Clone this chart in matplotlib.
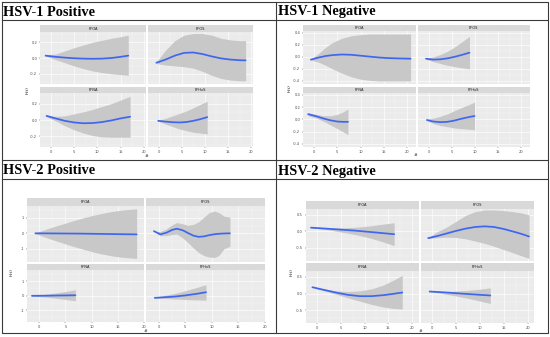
import matplotlib
matplotlib.use("Agg")
import matplotlib.pyplot as plt
import numpy as np

W, H = 550, 337

# ---- data ----
facet_names = ["PFOA", "PFOS", "PFNA", "PFHxS"]
panel_titles = ["HSV-1 Positive", "HSV-1 Negative", "HSV-2 Positive", "HSV-2 Negative"]

# HSV-1 Positive
p1_pfoa_x = [-1.1, 1, 3, 5, 7, 9, 11, 13, 15, 16.6]
p1_pfoa_fit = [0.03, 0.015, 0.005, -0.003, -0.008, -0.01, -0.008, 0.0, 0.015, 0.03]
p1_pfoa_hi = [0.035, 0.05, 0.09, 0.13, 0.165, 0.2, 0.225, 0.25, 0.27, 0.29]
p1_pfoa_lo = [0.025, -0.02, -0.06, -0.1, -0.135, -0.165, -0.185, -0.2, -0.21, -0.22]
p1_pfos_x = [-0.5, 1.5, 3.5, 5.5, 7.5, 9.5, 11.5, 13.5, 15.5, 17.5, 18.8]
p1_pfos_fit = [-0.06, -0.02, 0.03, 0.065, 0.07, 0.05, 0.02, -0.005, -0.02, -0.028, -0.03]
p1_pfos_hi = [-0.05, 0.1, 0.22, 0.29, 0.31, 0.31, 0.29, 0.25, 0.23, 0.22, 0.22]
p1_pfos_lo = [-0.07, -0.09, -0.1, -0.11, -0.13, -0.17, -0.22, -0.26, -0.28, -0.29, -0.29]
p1_pfna_x = [-0.9, 1, 3, 5, 7, 9, 11, 13, 15, 17]
p1_pfna_fit = [0.05, 0.02, -0.01, -0.03, -0.04, -0.037, -0.025, -0.005, 0.02, 0.04]
p1_pfna_hi = [0.06, 0.045, 0.05, 0.075, 0.1, 0.13, 0.165, 0.2, 0.245, 0.29]
p1_pfna_lo = [0.04, -0.01, -0.07, -0.12, -0.16, -0.19, -0.205, -0.21, -0.21, -0.21]
p1_pfhxs_x = [-0.1, 1.5, 3, 4.5, 6, 7.5, 9, 10.5]
p1_pfhxs_fit = [-0.01, -0.02, -0.027, -0.03, -0.025, -0.01, 0.01, 0.035]
p1_pfhxs_hi = [-0.005, 0.02, 0.05, 0.08, 0.11, 0.15, 0.19, 0.23]
p1_pfhxs_lo = [-0.015, -0.05, -0.08, -0.11, -0.13, -0.15, -0.16, -0.17]

# HSV-1 Negative
p2_pfoa_x = [-0.7, 1, 2.5, 4, 6, 8, 10, 12, 14, 16, 18, 20.8]
p2_pfoa_fit = [-0.045, -0.01, 0.015, 0.03, 0.04, 0.035, 0.02, 0.005, -0.01, -0.02, -0.025, -0.03]
p2_pfoa_hi = [-0.04, 0.06, 0.16, 0.24, 0.31, 0.35, 0.37, 0.38, 0.38, 0.38, 0.38, 0.38]
p2_pfoa_lo = [-0.05, -0.09, -0.14, -0.2, -0.27, -0.33, -0.37, -0.39, -0.4, -0.4, -0.4, -0.4]
p2_pfos_x = [-0.6, 1, 2.5, 4, 5.5, 7, 8.8]
p2_pfos_fit = [-0.03, -0.045, -0.04, -0.025, 0.0, 0.03, 0.07]
p2_pfos_hi = [-0.02, 0.0, 0.04, 0.09, 0.16, 0.24, 0.34]
p2_pfos_lo = [-0.04, -0.08, -0.11, -0.14, -0.16, -0.18, -0.2]
p2_pfna_x = [-1.3, 0.5, 2, 3.5, 5, 6.2, 7.3]
p2_pfna_fit = [0.085, 0.05, 0.015, -0.015, -0.035, -0.04, -0.04]
p2_pfna_hi = [0.11, 0.08, 0.06, 0.06, 0.08, 0.12, 0.17]
p2_pfna_lo = [0.06, 0.02, -0.03, -0.09, -0.15, -0.2, -0.25]
p2_pfhxs_x = [-0.4, 1, 2.5, 4, 5.5, 7, 8.5, 9.9]
p2_pfhxs_fit = [-0.01, -0.035, -0.045, -0.04, -0.02, 0.01, 0.035, 0.055]
p2_pfhxs_hi = [0.0, 0.02, 0.05, 0.09, 0.14, 0.19, 0.235, 0.28]
p2_pfhxs_lo = [-0.02, -0.07, -0.1, -0.12, -0.14, -0.15, -0.16, -0.17]

# HSV-2 Positive
p3_pfoa_x = [-0.75, 2, 4, 6, 8, 10, 12, 14, 16, 18.6]
p3_pfoa_fit = [0.0, -0.005, -0.01, -0.015, -0.02, -0.03, -0.04, -0.05, -0.06, -0.07]
p3_pfoa_hi = [0.02, 0.35, 0.56, 0.77, 0.97, 1.15, 1.3, 1.43, 1.52, 1.6]
p3_pfoa_lo = [-0.02, -0.36, -0.58, -0.8, -1.0, -1.19, -1.35, -1.48, -1.57, -1.64]
p3_pfos_x = [-0.9, 0.3, 1.5, 2.5, 3.4, 4.5, 5.5, 6.5, 7.5, 8.5, 9.5, 10.5, 11.3, 12.3, 13.4]
p3_pfos_fit = [0.14, -0.07, 0.05, 0.22, 0.3, 0.2, 0.02, -0.15, -0.23, -0.2, -0.12, -0.06, -0.03, -0.01, 0.0]
p3_pfos_hi = [0.14, 0.11, 0.3, 0.55, 0.7, 0.62, 0.52, 0.58, 0.75, 1.05, 1.35, 1.45, 1.35, 1.12, 1.05]
p3_pfos_lo = [0.14, -0.16, -0.15, -0.08, -0.05, -0.3, -0.6, -0.95, -1.25, -1.45, -1.55, -1.57, -1.45, -1.0, -0.85]
p3_pfna_x = [-1.4, 1, 3, 5, 6.9]
p3_pfna_fit = [-0.02, -0.01, 0.0, 0.01, 0.02]
p3_pfna_hi = [0.0, 0.08, 0.17, 0.28, 0.4]
p3_pfna_lo = [-0.04, -0.1, -0.18, -0.27, -0.36]
p3_pfhxs_x = [-0.75, 1, 3, 5, 7, 8.9]
p3_pfhxs_fit = [-0.16, -0.12, -0.07, 0.01, 0.11, 0.23]
p3_pfhxs_hi = [-0.14, 0.0, 0.15, 0.33, 0.54, 0.75]
p3_pfhxs_lo = [-0.18, -0.2, -0.24, -0.27, -0.3, -0.32]

# HSV-2 Negative
p4_pfoa_x = [-1.2, 2, 5, 8, 11, 14, 16.2]
p4_pfoa_fit = [0.11, 0.08, 0.05, 0.02, -0.02, -0.06, -0.09]
p4_pfoa_hi = [0.115, 0.1, 0.1, 0.12, 0.16, 0.22, 0.26]
p4_pfoa_lo = [0.105, 0.05, -0.02, -0.1, -0.2, -0.33, -0.44]
p4_pfos_x = [-0.8, 1, 3, 5, 7, 9, 11, 13, 15, 17, 18.7, 20.3]
p4_pfos_fit = [-0.21, -0.15, -0.07, 0.01, 0.08, 0.13, 0.15, 0.13, 0.07, -0.01, -0.08, -0.16]
p4_pfos_hi = [-0.2, -0.02, 0.12, 0.3, 0.48, 0.6, 0.65, 0.65, 0.63, 0.6, 0.56, 0.5]
p4_pfos_lo = [-0.22, -0.2, -0.18, -0.19, -0.23, -0.3, -0.37, -0.46, -0.56, -0.66, -0.75, -0.83]
p4_pfna_x = [-0.9, 1.5, 4, 6.5, 9, 11.5, 14, 16, 17.9]
p4_pfna_fit = [0.19, 0.11, 0.03, -0.04, -0.08, -0.08, -0.05, -0.01, 0.03]
p4_pfna_hi = [0.2, 0.14, 0.08, 0.06, 0.08, 0.14, 0.26, 0.4, 0.55]
p4_pfna_lo = [0.18, 0.08, -0.02, -0.13, -0.23, -0.33, -0.41, -0.45, -0.47]
p4_pfhxs_x = [-0.5, 2, 4.5, 7, 9.5, 12.2]
p4_pfhxs_fit = [0.06, 0.04, 0.015, -0.01, -0.035, -0.06]
p4_pfhxs_hi = [0.065, 0.06, 0.07, 0.09, 0.12, 0.17]
p4_pfhxs_lo = [0.055, 0.0, -0.06, -0.13, -0.21, -0.3]

# axis scales per panel
xlims = [(-2.3, 20.4), (-2.4, 21.9), (-2.4, 19.7), (-2.3, 21.4)]
ylims = [(-0.33, 0.33), (-0.45, 0.43), (-1.85, 1.8), (-0.9, 0.68)]
yticks = [[-0.2, 0.0, 0.2], [-0.4, -0.2, 0.0, 0.2, 0.4], [-1, 0, 1], [-0.5, 0.0, 0.5]]
ytick_labels = [["-0.2", "0.0", "0.2"], ["-0.4", "-0.2", "0.0", "0.2", "0.4"],
                ["-1", "0", "1"], ["-0.5", "0.0", "0.5"]]
xticks = [0, 5, 10, 15, 20]

facets = [
    [(p1_pfoa_x, p1_pfoa_fit, p1_pfoa_lo, p1_pfoa_hi), (p1_pfos_x, p1_pfos_fit, p1_pfos_lo, p1_pfos_hi),
     (p1_pfna_x, p1_pfna_fit, p1_pfna_lo, p1_pfna_hi), (p1_pfhxs_x, p1_pfhxs_fit, p1_pfhxs_lo, p1_pfhxs_hi)],
    [(p2_pfoa_x, p2_pfoa_fit, p2_pfoa_lo, p2_pfoa_hi), (p2_pfos_x, p2_pfos_fit, p2_pfos_lo, p2_pfos_hi),
     (p2_pfna_x, p2_pfna_fit, p2_pfna_lo, p2_pfna_hi), (p2_pfhxs_x, p2_pfhxs_fit, p2_pfhxs_lo, p2_pfhxs_hi)],
    [(p3_pfoa_x, p3_pfoa_fit, p3_pfoa_lo, p3_pfoa_hi), (p3_pfos_x, p3_pfos_fit, p3_pfos_lo, p3_pfos_hi),
     (p3_pfna_x, p3_pfna_fit, p3_pfna_lo, p3_pfna_hi), (p3_pfhxs_x, p3_pfhxs_fit, p3_pfhxs_lo, p3_pfhxs_hi)],
    [(p4_pfoa_x, p4_pfoa_fit, p4_pfoa_lo, p4_pfoa_hi), (p4_pfos_x, p4_pfos_fit, p4_pfos_lo, p4_pfos_hi),
     (p4_pfna_x, p4_pfna_fit, p4_pfna_lo, p4_pfna_hi), (p4_pfhxs_x, p4_pfhxs_fit, p4_pfhxs_lo, p4_pfhxs_hi)],
]

# ---- layout in pixels (left col x-ranges, right col x-ranges, strip/panel y-ranges) ----
# (lx0, lx1, rx0, rx1, s1y0, p1y0, p1y1, s2y0, p2y0, p2y1)
geom = [
    (40, 146, 148, 253, 25, 32, 84, 87, 93, 147),
    (303, 415.7, 417.7, 530, 25, 31, 84, 87, 93, 147),
    (26.7, 144, 146, 265, 197.7, 205.7, 261.7, 263.5, 269.5, 322.3),
    (305.7, 419, 421, 534.3, 201, 209, 260.7, 263.3, 271, 323.3),
]
ylab_pos = [(28, 90), (290, 88), (12, 272), (292, 272)]
xlab_pos = [(146, 156), (415, 155), (145, 331), (420, 331)]
title_pos = [(3, 12), (278, 12), (3, 171), (278, 171)]

PANEL_BG = "#EBEBEB"
STRIP_BG = "#D9D9D9"
TICK_FS = 2.6


def px_axes(fig, x0, y0, x1, y1):
    return fig.add_axes([x0 / W, 1 - y1 / H, (x1 - x0) / W, (y1 - y0) / H])


fig = plt.figure(figsize=(W / 100, H / 100), dpi=100)
fig.patch.set_facecolor("white")

for k in range(4):
    lx0, lx1, rx0, rx1, s1y0, p1y0, p1y1, s2y0, p2y0, p2y1 = geom[k]
    cols = [(lx0, lx1), (rx0, rx1)]
    rows = [(s1y0, p1y0, p1y1), (s2y0, p2y0, p2y1)]
    for i in range(4):
        r, c = divmod(i, 2)
        cx0, cx1 = cols[c]
        sy0, py0, py1 = rows[r]
        # strip
        sax = px_axes(fig, cx0, sy0, cx1, py0)
        sax.set_facecolor(STRIP_BG)
        sax.set_xticks([])
        sax.set_yticks([])
        for sp in sax.spines.values():
            sp.set_visible(False)
        sax.text(0.5, 0.5, facet_names[i], ha="center", va="center",
                 fontsize=2.6, color="#1A1A1A", transform=sax.transAxes)
        # panel
        ax = px_axes(fig, cx0, py0, cx1, py1)
        ax.set_facecolor(PANEL_BG)
        for sp in ax.spines.values():
            sp.set_visible(False)
        x0, x1 = xlims[k]
        y0, y1 = ylims[k]
        ax.set_xlim(x0, x1)
        ax.set_ylim(y0, y1)
        # grid: minor then major
        for xv in xticks:
            ax.axvline(xv, color="white", lw=0.45, zorder=0.5)
            ax.axvline(xv + 2.5, color="white", lw=0.2, zorder=0.5)
        ax.axvline(-2.5, color="white", lw=0.2, zorder=0.5)
        yt = yticks[k]
        step = yt[1] - yt[0]
        for yv in yt:
            ax.axhline(yv, color="white", lw=0.45, zorder=0.5)
            ax.axhline(yv + step / 2, color="white", lw=0.2, zorder=0.5)
        ax.axhline(yt[0] - step / 2, color="white", lw=0.2, zorder=0.5)

        fx, fy, flo, fhi = facets[k][i]
        ax.fill_between(fx, flo, fhi, color="#C8C8C8", lw=0, zorder=1)
        ax.plot(fx, fy, color="#3F66F0", lw=1.25, zorder=2, solid_capstyle="round")

        ax.set_xticks(xticks)
        ax.set_xticklabels([str(v) for v in xticks])
        ax.set_yticks(yt)
        ax.set_yticklabels(ytick_labels[k])
        ax.tick_params(length=1.0, width=0.3, color="#333333", pad=1.0,
                       labelsize=TICK_FS, labelcolor="#4D4D4D")
        if c == 1:
            ax.tick_params(axis="y", left=False, labelleft=False)
        if r == 0:
            ax.tick_params(axis="x", bottom=False, labelbottom=False)

    fig.text(ylab_pos[k][0] / W, 1 - ylab_pos[k][1] / H, "h(t)", rotation=90,
             ha="center", va="center", fontsize=3.2, color="#1A1A1A")
    fig.text(xlab_pos[k][0] / W, 1 - xlab_pos[k][1] / H, "#",
             ha="center", va="center", fontsize=3.2, color="#1A1A1A")
    fig.text(title_pos[k][0] / W, 1 - title_pos[k][1] / H, panel_titles[k],
             ha="left", va="center", fontsize=10.4, fontweight="bold",
             family="Liberation Serif", color="black")

# frame lines on a full-figure overlay
ov = fig.add_axes([0, 0, 1, 1], facecolor="none")
ov.set_xlim(0, W)
ov.set_ylim(H, 0)
ov.axis("off")
lc = "#3A3A3A"
ov.plot([2, 548, 548, 2, 2], [2, 2, 333, 333, 2], color=lc, lw=0.8)
ov.plot([276, 276], [2, 333], color=lc, lw=0.8)
ov.plot([2, 548], [160, 160], color=lc, lw=0.8)
ov.plot([2, 548], [20, 20], color=lc, lw=0.8)
ov.plot([2, 548], [179, 179], color=lc, lw=0.8)

fig.savefig("out.png", dpi=100)
